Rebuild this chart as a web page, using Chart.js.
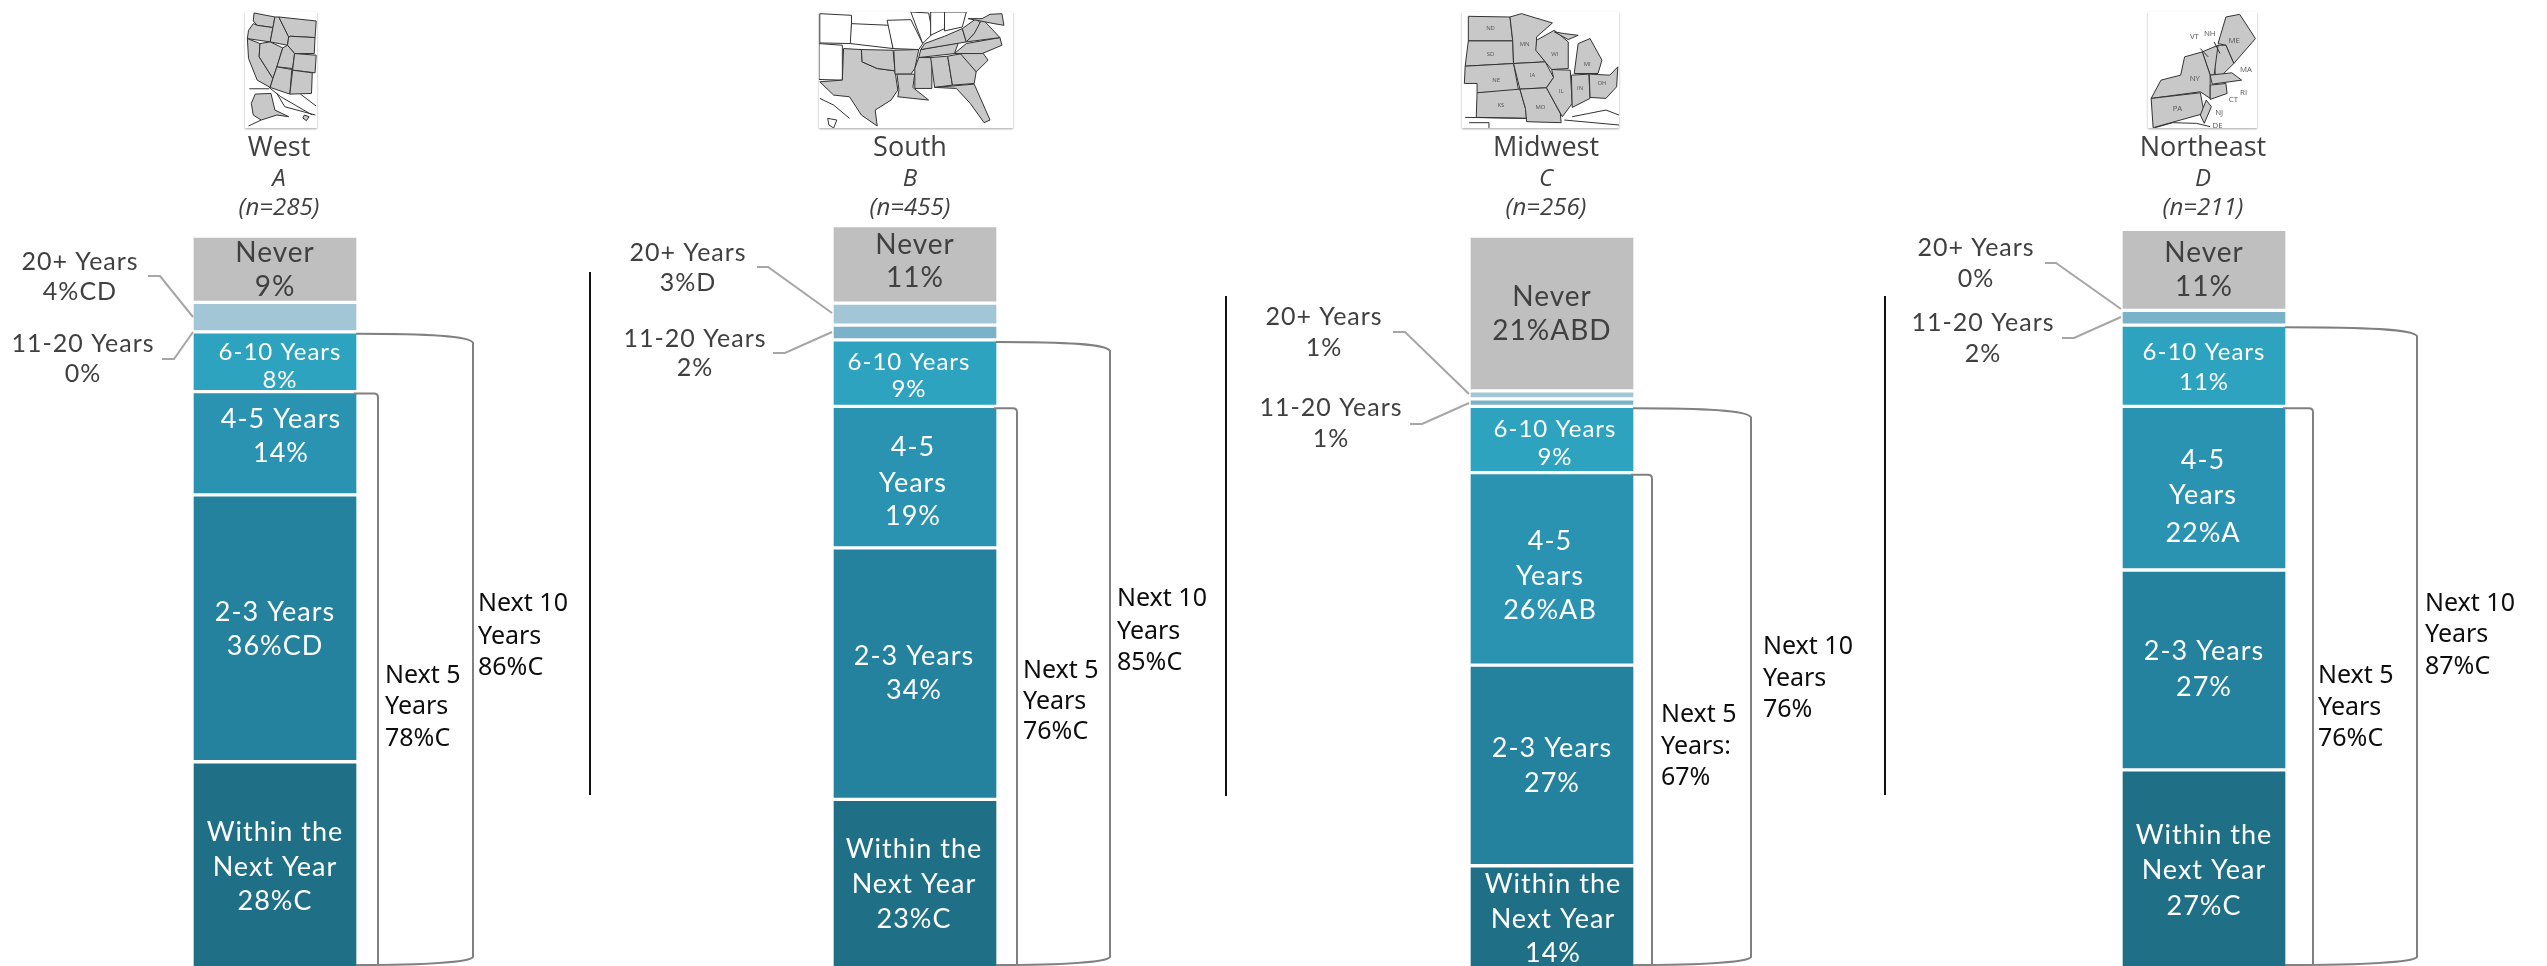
<!DOCTYPE html>
<html>
<head>
<meta charset="utf-8">
<title>Replacement timing by region</title>
<script src="https://cdn.jsdelivr.net/npm/chart.js@4"></script>
<style>
    html, body { margin: 0; padding: 0; background: #fff; width: 2547px; height: 966px; overflow: hidden; }
    canvas { position: absolute; left: 0; top: 0; }
    .map { position: absolute; top: 12px; height: 116px; background: #fff; box-shadow: 0 1px 2px rgba(0,0,0,.35); }
    .map polygon { fill: #c8c8c8; stroke: #333; stroke-width: 1; vector-effect: non-scaling-stroke; }
    .map polygon.out { fill: #fff; }
    .map polyline { fill: none; stroke: #333; stroke-width: 1; vector-effect: non-scaling-stroke; }
    .map text { font: 15px "Open Sans"; fill: #555; text-anchor: middle; }
    .map.ne text { font-size: 20px; }
</style>
</head>
<body>
<div id="stage"></div>

<svg class="map" style="left:245px;width:72px" viewBox="619 35 183 349" preserveAspectRatio="none">
    <polygon points="642,38 695,50 690,82 650,75 640,62"/>
    <polygon points="640,70 650,75 690,82 683,125 625,115 628,90"/>
    <polygon points="695,50 705,50 730,110 727,135 683,125 690,82"/>
    <polygon points="705,50 800,62 797,112 735,108 730,110"/>
    <polygon points="735,108 797,112 795,160 745,160 727,135 730,110"/>
    <polygon points="625,115 657,130 655,170 690,235 683,262 650,240 628,175"/>
    <polygon points="657,130 683,125 715,143 700,200 690,235 655,170"/>
    <polygon points="715,143 727,135 745,160 740,205 700,200"/>
    <polygon points="745,160 800,165 797,218 740,210"/>
    <polygon points="700,200 738,208 733,282 683,262 690,235"/>
    <polygon points="740,210 790,218 788,280 733,282"/>
    <polygon points="645,282 685,280 695,330 730,350 700,345 660,360 640,345 635,310"/>
    <polygon points="770,345 782,350 775,362 766,354"/>
    <polyline points="630,266 680,266"/>
    <polyline points="680,262 710,290 790,345"/>
    <polyline points="700,280 720,320 798,345"/>
    <polyline points="760,282 800,318"/>
    <polyline points="628,378 660,360"/>
</svg>

<svg class="map" style="left:819px;width:194px" viewBox="553 35 490 349" preserveAspectRatio="none">
    <polygon class="out" points="555,40 635,45 635,130 555,128"/>
    <polygon class="out" points="635,70 730,75 740,145 632,130"/>
    <polygon class="out" points="725,60 785,58 815,130 805,148 740,145"/>
    <polygon class="out" points="785,35 830,38 840,100 815,130"/>
    <polygon class="out" points="835,35 870,35 870,85 835,105"/>
    <polygon class="out" points="870,35 925,35 915,80 870,92"/>
    <polygon class="out" points="553,130 612,135 612,240 553,238"/>
    <polygon points="615,145 660,148 662,185 700,205 745,212 752,270 735,300 695,330 700,378 660,345 630,290 590,285 555,245 612,240"/>
    <polygon points="660,148 740,150 745,212 700,205 662,185"/>
    <polygon points="742,150 805,148 795,205 785,222 745,222"/>
    <polygon points="750,222 795,222 790,262 830,300 790,295 752,290 755,270"/>
    <polygon points="795,205 805,172 838,172 838,265 795,265"/>
    <polygon points="835,172 878,168 890,255 845,262"/>
    <polygon points="878,168 915,160 950,215 945,250 890,255"/>
    <polygon points="845,262 945,252 985,360 970,368 935,310 900,265"/>
    <polygon points="910,160 965,155 980,180 950,215"/>
    <polygon points="895,160 925,130 1010,112 1015,135 965,160"/>
    <polygon points="810,148 905,128 895,160 805,172"/>
    <polygon points="820,130 870,108 915,85 925,125 810,148"/>
    <polygon points="915,85 950,55 970,80 945,100 925,125"/>
    <polygon points="925,125 945,100 965,55 1010,112"/>
    <polygon points="930,55 965,55 985,42 1015,40 1020,75 995,70"/>
    <polyline points="555,295 590,315 630,355"/>
    <polyline points="575,355 598,360 590,384 578,375 575,355"/>
</svg>

<svg class="map" style="left:1462px;width:157px" viewBox="612 35 396 349" preserveAspectRatio="none">
    <polygon points="628,48 733,50 740,122 628,122"/>
    <polygon points="628,122 740,122 742,190 620,198"/>
    <polygon points="620,198 742,190 755,272 650,278 650,250 618,250"/>
    <polygon points="650,278 758,267 772,325 775,355 648,352"/>
    <polygon points="733,50 762,40 840,68 800,110 800,150 822,185 742,190 740,122"/>
    <polygon points="742,190 822,185 843,232 825,263 758,267"/>
    <polygon points="758,267 825,263 860,340 862,368 775,365 772,325"/>
    <polygon points="800,120 845,90 880,125 880,205 838,208 822,185 798,150"/>
    <polygon points="838,208 885,210 890,310 865,350 825,263 843,232"/>
    <polygon points="888,225 932,222 935,295 890,322"/>
    <polygon points="895,220 905,130 935,115 965,180 955,220"/>
    <polygon points="845,95 880,118 905,105 870,100"/>
    <polygon points="933,222 985,225 1005,200 1002,260 975,295 935,292"/>
    <polyline points="620,352 775,355"/>
    <polyline points="630,368 680,368 680,384"/>
    <polyline points="890,350 975,330 1008,345"/>
    <polyline points="870,360 1008,375"/>
    <text x="684" y="90">ND</text><text x="684" y="166">SD</text><text x="698" y="246">NE</text>
    <text x="710" y="321">KS</text><text x="770" y="136">MN</text><text x="790" y="230">IA</text>
    <text x="810" y="326">MO</text><text x="846" y="168">WI</text><text x="862" y="278">IL</text>
    <text x="910" y="270">IN</text><text x="928" y="198">MI</text><text x="965" y="256">OH</text>
</svg>

<svg class="map ne" style="left:2148px;width:109px" viewBox="727 35 277 349" preserveAspectRatio="none">
    <polygon points="905,130 925,50 960,42 1000,115 945,190 925,135"/>
    <polygon points="905,135 925,135 945,190 915,225 898,225 895,165"/>
    <polygon points="865,155 905,135 895,225 885,225"/>
    <polygon points="735,295 760,240 810,225 820,170 865,155 885,225 885,295 860,275"/>
    <polygon points="885,225 940,218 965,240 890,252"/>
    <polygon points="885,255 925,250 928,280 885,298"/>
    <polygon points="735,295 860,278 870,340 740,383"/>
    <polygon points="875,300 888,320 870,370 860,345"/>
    <polyline points="860,145 880,170"/>
    <polyline points="895,125 910,160"/>
    <polyline points="745,383 790,368 850,370 885,380"/>
    <text x="845" y="117">VT</text><text x="884" y="106">NH</text><text x="946" y="128">ME</text>
    <text x="976" y="216">MA</text><text x="846" y="244">NY</text><text x="970" y="284">RI</text>
    <text x="944" y="306">CT</text><text x="802" y="332">PA</text><text x="908" y="346">NJ</text>
    <text x="904" y="383">DE</text>
</svg>

<script>
// Share of respondents, bottom segment first
const regions = ["West", "South", "Midwest", "Northeast"];
const regionLetters = ["A", "B", "C", "D"];
const sampleSizes = ["(n=285)", "(n=455)", "(n=256)", "(n=211)"];

const withinYear = [27.7, 22.6, 13.6, 26.6];
const years2to3 = [36.2, 34.1, 27.2, 27.1];
const years4to5 = [14.0, 19.2, 26.1, 22.2];
const years6to10 = [8.1, 9.0, 9.0, 11.0];
const years11to20 = [0, 2.0, 1.0, 2.0];
const years20plus = [4.0, 3.0, 1.1, 0];
const never = [9.0, 10.5, 21.0, 11.0];

// Printed labels with their significance letters
const withinLabels = ["28%C", "23%C", "14%", "27%C"];
const years2to3Labels = ["36%CD", "34%", "27%", "27%"];
const years4to5Labels = ["14%", "19%", "26%AB", "22%A"];
const years6to10Labels = ["8%", "9%", "9%", "11%"];
const years11to20Labels = ["0%", "2%", "1%", "2%"];
const years20plusLabels = ["4%CD", "3%D", "1%", "0%"];
const neverLabels = ["9%", "11%", "21%ABD", "11%"];
const next5Labels = ["78%C", "76%C", "67%", "76%C"];
const next10Labels = ["86%C", "85%C", "76%", "87%C"];

const seriesNames = ["Within the Next Year", "2-3 Years", "4-5 Years", "6-10 Years", "11-20 Years", "20+ Years", "Never"];
const seriesValues = [withinYear, years2to3, years4to5, years6to10, years11to20, years20plus, never];
const seriesColors = ["#1f7087", "#24829f", "#2a93b1", "#2da3bf", "#7ab3c9", "#a3c6d6", "#bfbfbf"];

const PAGE_W = 2547;
const PAGE_H = 966;
const BODY_FONT = "Lato";
const NOTE_FONT = "'Noto Sans'";
const HEAD_FONT = "'Open Sans'";
const TEXT_GREY = "#404040";

// Where everything sits on the page for each panel
const panelLayout = [
    {
        center: 275, headX: 279,
        divider: { x: 590, y1: 272, y2: 795 },
        outerX: 473, innerX: 378,
        next5: { x: 385, y: [676, 707, 739] },
        next10: { x: 478, y: [604, 637, 668] },
        side20: { x: 80, y: [262, 292], leader: [[148, 276], [160, 276], [193, 317]] },
        side11: { x: 83, y: [344, 374], leader: [[162, 359], [174, 359], [193, 332]] },
        within: { x: 275, y: [832, 867, 901] },
        y2to3: { x: 275, lines: ["2-3 Years"], y: [612, 646] },
        y4to5: { x: 281, lines: ["4-5 Years"], y: [419, 453] },
        y6to10: { x: 280, y: [352, 380] },
        neverLabel: { x: 275, y: [253, 287] }
    },
    {
        center: 915, headX: 910,
        divider: { x: 1226, y1: 296, y2: 796 },
        outerX: 1110, innerX: 1017,
        next5: { x: 1023, y: [671, 702, 732] },
        next10: { x: 1117, y: [599, 632, 663] },
        side20: { x: 688, y: [253, 283], leader: [[757, 267], [768, 267], [832, 313]] },
        side11: { x: 695, y: [339, 368], leader: [[773, 353], [785, 353], [832, 332]] },
        within: { x: 914, y: [849, 884, 919] },
        y2to3: { x: 914, lines: ["2-3 Years"], y: [656, 690] },
        y4to5: { x: 913, lines: ["4-5", "Years"], y: [447, 483, 516] },
        y6to10: { x: 909, y: [362, 389] },
        neverLabel: { x: 915, y: [245, 278] }
    },
    {
        center: 1552, headX: 1546,
        divider: { x: 1885, y1: 296, y2: 795 },
        outerX: 1751, innerX: 1652,
        next5: { x: 1661, y: [715, 747, 778], title: ["Next 5", "Years:"] },
        next10: { x: 1763, y: [647, 679, 710] },
        side20: { x: 1324, y: [317, 348], leader: [[1393, 332], [1405, 332], [1469, 394]] },
        side11: { x: 1331, y: [408, 439], leader: [[1410, 424], [1422, 424], [1469, 403]] },
        within: { x: 1553, y: [884, 919, 953] },
        y2to3: { x: 1552, lines: ["2-3 Years"], y: [748, 783] },
        y4to5: { x: 1550, lines: ["4-5", "Years"], y: [541, 576, 610] },
        y6to10: { x: 1555, y: [429, 457] },
        neverLabel: { x: 1552, y: [297, 331] }
    },
    {
        center: 2204, headX: 2203,
        divider: null,
        outerX: 2417, innerX: 2313,
        next5: { x: 2318, y: [676, 708, 739] },
        next10: { x: 2425, y: [604, 635, 667] },
        side20: { x: 1976, y: [248, 279], leader: [[2045, 263], [2056, 263], [2121, 309]] },
        side11: { x: 1983, y: [323, 354], leader: [[2062, 338], [2074, 338], [2121, 317]] },
        within: { x: 2204, y: [835, 870, 906] },
        y2to3: { x: 2204, lines: ["2-3 Years"], y: [651, 687] },
        y4to5: { x: 2203, lines: ["4-5", "Years"], y: [460, 495, 533] },
        y6to10: { x: 2204, y: [352, 382] },
        neverLabel: { x: 2204, y: [253, 287] }
    }
];

// Draws text centred on each given y line
const drawLines = (ctx, lines, x, ys, font, color, align, spacing) => {
    ctx.font = font;
    ctx.fillStyle = color;
    ctx.textAlign = align;
    ctx.textBaseline = "middle";
    ctx.letterSpacing = spacing || "0px";
    lines.forEach((line, i) => ctx.fillText(line, x, ys[i]));
    ctx.letterSpacing = "0px";
};

const drawLeader = (ctx, points) => {
    ctx.beginPath();
    ctx.strokeStyle = "#a6a6a6";
    ctx.lineWidth = 2;
    points.forEach((p, i) => (i ? ctx.lineTo(p[0], p[1]) : ctx.moveTo(p[0], p[1])));
    ctx.stroke();
};

// Everything around the bars for one panel
const panelNotes = {
    id: "panelNotes",
    afterDatasetsDraw(chart) {
        const i = chart.options.plugins.panelNotes.panel;
        const ctx = chart.ctx;
        const p = panelLayout[i];
        const y = chart.scales.y;
        const barRight = p.center + 81;

        ctx.save();

        // region heading
        drawLines(ctx, [regions[i]], p.headX, [148], `27px ${HEAD_FONT}`, TEXT_GREY, "center");
        drawLines(ctx, [regionLetters[i]], p.headX, [179], `italic 24px ${HEAD_FONT}`, TEXT_GREY, "center");
        drawLines(ctx, [sampleSizes[i]], p.headX, [208], `italic 24px ${HEAD_FONT}`, TEXT_GREY, "center");

        // labels inside the segments
        const big = `27px ${BODY_FONT}`;
        const ls = "1px";
        drawLines(ctx, ["Within the", "Next Year", withinLabels[i]], p.within.x, p.within.y, big, "#fff", "center", ls);
        drawLines(ctx, [...p.y2to3.lines, years2to3Labels[i]], p.y2to3.x, p.y2to3.y, big, "#fff", "center", ls);
        drawLines(ctx, [...p.y4to5.lines, years4to5Labels[i]], p.y4to5.x, p.y4to5.y, big, "#fff", "center", ls);
        drawLines(ctx, ["6-10 Years", years6to10Labels[i]], p.y6to10.x, p.y6to10.y, `24px ${BODY_FONT}`, "#fff", "center", ls);
        drawLines(ctx, ["Never", neverLabels[i]], p.neverLabel.x, p.neverLabel.y, `28px ${BODY_FONT}`, TEXT_GREY, "center", ls);

        // small segments are labelled at the side
        drawLines(ctx, ["20+ Years", years20plusLabels[i]], p.side20.x, p.side20.y, `25px ${BODY_FONT}`, TEXT_GREY, "center", ls);
        drawLines(ctx, ["11-20 Years", years11to20Labels[i]], p.side11.x, p.side11.y, `25px ${BODY_FONT}`, TEXT_GREY, "center", ls);
        drawLeader(ctx, p.side20.leader);
        drawLeader(ctx, p.side11.leader);

        // brackets start at the top of the segments they add up
        const top10 = y.getPixelForValue(withinYear[i] + years2to3[i] + years4to5[i] + years6to10[i]) + 2;
        const top5 = y.getPixelForValue(withinYear[i] + years2to3[i] + years4to5[i]) + 2;
        const mid = barRight + (p.outerX - barRight) * 0.6;

        ctx.strokeStyle = "#808080";
        ctx.lineWidth = 2;
        ctx.beginPath();
        ctx.moveTo(barRight, top10);
        ctx.bezierCurveTo(mid, top10, p.outerX - 3, top10 + 2, p.outerX, top10 + 9);
        ctx.lineTo(p.outerX, 957);
        ctx.bezierCurveTo(p.outerX - 3, 962, mid, 965, barRight, 965);
        ctx.stroke();

        ctx.beginPath();
        ctx.moveTo(barRight - 2, top5);
        ctx.lineTo(p.innerX - 4, top5);
        ctx.quadraticCurveTo(p.innerX, top5, p.innerX, top5 + 4);
        ctx.lineTo(p.innerX, 965);
        ctx.stroke();

        // bracket totals
        const note = `25px ${NOTE_FONT}`;
        drawLines(ctx, [...(p.next5.title || ["Next 5", "Years"]), next5Labels[i]], p.next5.x, p.next5.y, note, "#0d0d0d", "left");
        drawLines(ctx, ["Next 10", "Years", next10Labels[i]], p.next10.x, p.next10.y, note, "#0d0d0d", "left");

        // rule between panels
        if (p.divider) {
            ctx.strokeStyle = "#111";
            ctx.lineWidth = 2;
            ctx.beginPath();
            ctx.moveTo(p.divider.x, p.divider.y1);
            ctx.lineTo(p.divider.x, p.divider.y2);
            ctx.stroke();
        }

        ctx.restore();
    }
};

const stage = document.getElementById("stage");

regions.forEach((region, i) => {
    const canvas = document.createElement("canvas");
    canvas.width = PAGE_W;
    canvas.height = PAGE_H;
    canvas.style.width = PAGE_W + "px";
    canvas.style.height = PAGE_H + "px";
    stage.appendChild(canvas);

    const center = panelLayout[i].center;

    new Chart(canvas.getContext("2d"), {
        type: "bar",
        data: {
            labels: [region],
            datasets: seriesNames.map((name, s) => ({
                label: name,
                data: [seriesValues[s][i]],
                backgroundColor: seriesColors[s],
                borderColor: "#fff",
                borderWidth: 2,
                borderSkipped: s === 0 ? "bottom" : false,
                barThickness: 166
            }))
        },
        options: {
            responsive: false,
            animation: false,
            layout: {
                // full page canvas, padded so the single bar lands on its centre
                padding: {
                    left: Math.max(0, 2 * center - PAGE_W),
                    right: Math.max(0, PAGE_W - 2 * center),
                    top: 0,
                    bottom: 0
                }
            },
            scales: {
                x: { stacked: true, display: false, grid: { display: false } },
                y: { stacked: true, display: false, min: 0, max: 131, grid: { display: false } }
            },
            plugins: {
                legend: { display: false },
                tooltip: { enabled: false },
                panelNotes: { panel: i }
            }
        },
        plugins: [panelNotes]
    });
});
</script>
</body>
</html>
